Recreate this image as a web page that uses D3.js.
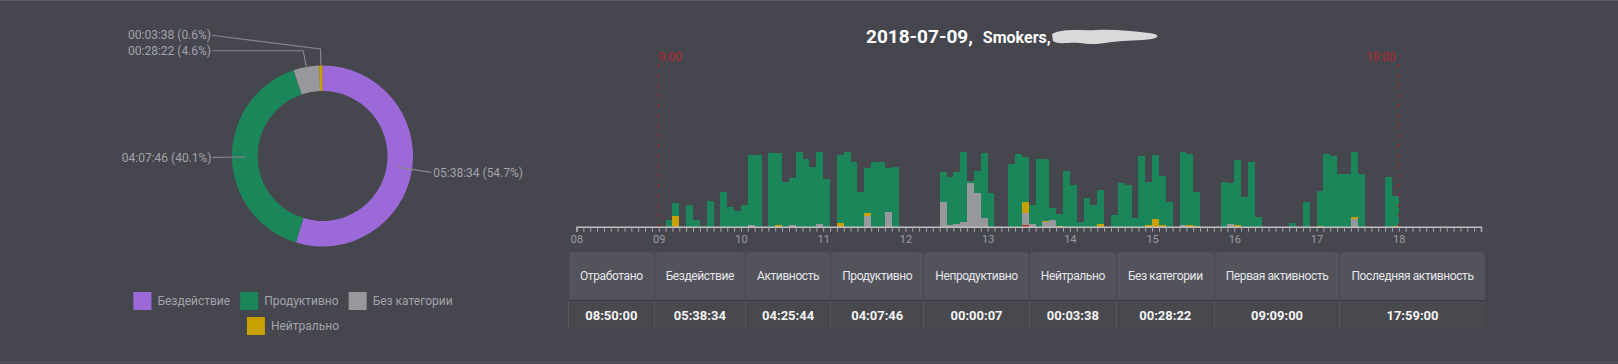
<!DOCTYPE html>
<html>
<head>
<meta charset="utf-8">
<script src="https://cdn.jsdelivr.net/npm/d3@7"></script>
<style>
    html, body {
        margin: 0;
        padding: 0;
        background: #45464e;
        width: 1618px;
        height: 364px;
        overflow: hidden;
        font-family: Roboto, "Noto Sans", sans-serif;
    }
    svg.main {
        position: absolute;
        left: 0;
        top: 0;
    }
    table.stats {
        position: absolute;
        left: 568px;
        top: 252px;
        border-collapse: separate;
        border-spacing: 0;
        font-family: Roboto, sans-serif;
    }
    table.stats th {
        background: #52535b;
        color: #e6e6ea;
        font-weight: 400;
        font-size: 12px;
        letter-spacing: -0.4px;
        height: 48px;
        padding: 0 11px;
        border-radius: 4px 4px 0 0;
        border-left: 1px solid #45464e;
        border-bottom: 1px solid #3c3d44;
        white-space: nowrap;
    }
    table.stats td {
        color: #f4f4f4;
        font-weight: 700;
        font-size: 13px;
        height: 28px;
        padding: 0;
        text-align: center;
        background: #48494f;
        border-left: 1px solid #55565e;
    }
</style>
</head>
<body>
<script>
// ---- data ----
const pieLabels = ["Бездействие", "Продуктивно", "Без категории", "Нейтрально"];
const pieSeconds = [20314, 14866, 1702, 218];
const pieColors = ["#9c6ad8", "#1b8659", "#98989c", "#c8a000"];
const unproductiveSeconds = 7; // counted in the total, too small to show

// seconds per 5-minute bin, starting at 09:00 (12 bins per hour)
const productive = [
    0, 27, 55, 0, 88, 28, 4, 104, 0, 137, 77, 62,
    85, 281, 288, 0, 296, 290, 178, 186, 300, 269, 240, 288,
    192, 0, 270, 298, 257, 140, 182, 259, 259, 176, 240, 0,
    0, 0, 0, 0, 0, 121, 195, 210, 278, 8, 88, 258,
    135, 0, 0, 249, 292, 179, 78, 269, 245, 46, 48, 223,
    165, 20, 116, 88, 139, 0, 48, 174, 168, 34, 284, 174,
    259, 197, 100, 0, 293, 286, 134, 0, 0, 0, 178, 164,
    260, 120, 259, 37, 0, 0, 0, 0, 15, 0, 100, 0,
    141, 292, 284, 212, 212, 259, 210, 0, 0, 0, 197, 121
];
const uncategorized = [
    0, 0, 0, 0, 0, 0, 0, 0, 0, 0, 0, 0,
    0, 7, 0, 0, 0, 0, 0, 7, 0, 0, 0, 12,
    0, 0, 0, 0, 0, 0, 43, 0, 0, 59, 0, 0,
    0, 0, 0, 0, 0, 99, 5, 10, 19, 176, 133, 35,
    0, 0, 0, 0, 0, 47, 10, 0, 20, 27, 0, 0,
    0, 0, 0, 0, 0, 0, 0, 0, 0, 0, 0, 0,
    0, 0, 0, 0, 5, 0, 0, 0, 0, 0, 0, 9,
    0, 0, 0, 0, 0, 0, 0, 0, 0, 0, 0, 0,
    0, 0, 0, 0, 0, 31, 0, 0, 0, 0, 0, 0
];
const neutral = [
    0, 0, 41, 0, 0, 0, 0, 0, 0, 0, 0, 0,
    0, 0, 0, 0, 0, 5, 0, 0, 0, 0, 0, 0,
    0, 0, 15, 0, 0, 0, 11, 0, 0, 0, 0, 0,
    0, 0, 0, 0, 0, 0, 0, 0, 0, 0, 0, 0,
    0, 0, 0, 0, 0, 45, 0, 0, 4, 0, 3, 0,
    0, 0, 0, 0, 9, 0, 0, 0, 0, 0, 0, 5,
    29, 6, 0, 0, 0, 6, 4, 0, 0, 0, 0, 0,
    7, 0, 0, 0, 0, 0, 0, 0, 0, 0, 0, 0,
    3, 0, 0, 0, 0, 7, 0, 0, 0, 0, 0, 3
];
const unproductive = [
    0, 0, 0, 0, 0, 0, 0, 0, 0, 0, 0, 0,
    0, 0, 0, 0, 0, 0, 0, 0, 0, 0, 0, 0,
    0, 0, 0, 0, 0, 0, 0, 0, 0, 0, 0, 0,
    0, 0, 0, 0, 0, 0, 0, 0, 0, 0, 0, 0,
    0, 0, 0, 0, 0, 7, 0, 0, 0, 0, 0, 0,
    0, 0, 0, 0, 0, 0, 0, 0, 0, 0, 0, 0,
    0, 0, 0, 0, 0, 0, 0, 0, 0, 0, 0, 0,
    0, 0, 0, 0, 0, 0, 0, 0, 0, 0, 0, 0,
    0, 0, 0, 0, 0, 0, 0, 0, 0, 0, 0, 0
];
const barColors = { unproductive: "#b8312f", uncategorized: "#98989c", neutral: "#c8a000", productive: "#1b8659" };

const titleDate = "2018-07-09,";
const titleGroup = "Smokers,";
const markers = ["9:00", "18:00"];

const statLabels = ["Отработано", "Бездействие", "Активность", "Продуктивно", "Непродуктивно",
    "Нейтрально", "Без категории", "Первая активность", "Последняя активность"];
const statValues = ["08:50:00", "05:38:34", "04:25:44", "04:07:46", "00:00:07",
    "00:03:38", "00:28:22", "09:09:00", "17:59:00"];

// ---- svg ----
const W = 1618, H = 364;
const svg = d3.select("body").append("svg")
    .attr("class", "main")
    .attr("width", W)
    .attr("height", H);

svg.append("line").attr("x1", 0).attr("x2", W).attr("y1", 0.5).attr("y2", 0.5)
    .attr("stroke", "#5a5b63");
svg.append("line").attr("x1", 0).attr("x2", W).attr("y1", H - 1.5).attr("y2", H - 1.5)
    .attr("stroke", "#55565e");

// ---- donut ----
const cx = 322.5, cy = 156, rOuter = 90.5, rInner = 65;
const total = d3.sum(pieSeconds) + unproductiveSeconds;

function hms(s) {
    const h = Math.floor(s / 3600), m = Math.floor(s % 3600 / 60), sec = s % 60;
    return [h, m, sec].map(v => String(v).padStart(2, "0")).join(":");
}

const pie = d3.pie().sort(null).value(d => d)(pieSeconds);
const arc = d3.arc().innerRadius(rInner).outerRadius(rOuter);
const donut = svg.append("g").attr("transform", `translate(${cx},${cy})`);

donut.selectAll("path")
    .data(pie)
    .enter().append("path")
    .attr("d", arc)
    .attr("fill", (d, i) => pieColors[i]);

// label layout
const pt = (a, r) => [r * Math.sin(a), -r * Math.cos(a)];
const labels = pie.map((d, i) => {
    const a = (d.startAngle + d.endAngle) / 2;
    const big = (d.endAngle - d.startAngle) > 0.3;
    const start = pt(a, big ? 77 : 91);
    const elbow = pt(a, big ? 110 : 107);
    const right = Math.sin(a) > 0;
    return {
        i, a, big, start, elbow, right,
        y: elbow[1],
        text: `${hms(pieSeconds[i])} (${(pieSeconds[i] / total * 100).toFixed(1)}%)`
    };
});
// push overlapping left labels upward
const left = labels.filter(l => !l.right).sort((a, b) => b.y - a.y);
for (let k = 1; k < left.length; k++) {
    if (left[k - 1].y - left[k].y < 15.5) left[k].y = left[k - 1].y - 15.5;
}
const leftX = 212 - cx;

labels.forEach(l => {
    let pts;
    if (l.big) {
        pts = [l.start, l.elbow];
        l.x = l.right ? l.elbow[0] + 2 : l.elbow[0] - 1;
    } else {
        pts = [l.start, l.elbow, [leftX, l.y]];
        l.x = leftX - 1;
    }
    donut.append("polyline")
        .attr("points", pts.map(p => p.join(",")).join(" "))
        .attr("fill", "none")
        .attr("stroke", "#86868c")
        .attr("stroke-width", 1.2);
    donut.append("text")
        .attr("x", l.x)
        .attr("y", l.big ? l.elbow[1] : l.y)
        .attr("dy", "0.35em")
        .attr("text-anchor", l.right ? "start" : "end")
        .attr("font-size", "12px")
        .attr("fill", "#a3a3aa")
        .text(l.text);
});

// legend
const legend = svg.append("g");
const legendCX = 293, legendMax = 340, sw = 18;
const items = pieLabels.map((name, i) => {
    const t = legend.append("text").attr("font-size", "12px").attr("fill", "#a3a3aa").text(name);
    return { name, i, t, w: sw + 6 + t.node().getComputedTextLength() };
});
const rows = [[]];
let rowW = 0;
items.forEach(it => {
    const add = (rows[rows.length - 1].length ? 10 : 0) + it.w;
    if (rowW + add > legendMax) { rows.push([]); rowW = 0; }
    rowW += (rows[rows.length - 1].length ? 10 : 0) + it.w;
    rows[rows.length - 1].push(it);
});
rows.forEach((row, r) => {
    const width = d3.sum(row, d => d.w) + 10 * (row.length - 1);
    let x = legendCX - width / 2;
    const y = 301 + r * 25;
    row.forEach(it => {
        legend.append("rect")
            .attr("x", x).attr("y", y - sw / 2)
            .attr("width", sw).attr("height", sw)
            .attr("fill", pieColors[it.i]);
        it.t.attr("x", x + sw + 6).attr("y", y).attr("dy", "0.35em");
        x += it.w + 10;
    });
});

// ---- timeline ----
const day = (h, m) => new Date(2018, 6, 9, h, m);
const x = d3.scaleTime()
    .domain([day(8, 0), day(19, 0)])
    .range([576.5, 1481]);
const axisY = 226.7;
const y = d3.scaleLinear().domain([0, 300]).range([axisY, axisY - 75]);

const bins = productive.map((v, i) => ({
    t: d3.timeMinute.offset(day(9, 0), i * 5),
    unproductive: unproductive[i],
    uncategorized: uncategorized[i],
    neutral: neutral[i],
    productive: v
}));
const keys = ["unproductive", "uncategorized", "neutral", "productive"];
const stacked = d3.stack().keys(keys)(bins);

const barsG = svg.append("g");
stacked.forEach(layer => {
    barsG.selectAll(null)
        .data(layer.filter(d => d[1] > d[0]))
        .enter().append("rect")
        .attr("x", d => x(d.data.t))
        .attr("width", d => x(d3.timeMinute.offset(d.data.t, 5)) - x(d.data.t))
        .attr("y", d => y(d[1]))
        .attr("height", d => y(d[0]) - y(d[1]))
        .attr("fill", barColors[layer.key])
        .attr("shape-rendering", "crispEdges");
});

// work-day markers
const markerTimes = [day(9, 0), day(18, 0)];
markerTimes.forEach((t, i) => {
    svg.append("line")
        .attr("x1", x(t)).attr("x2", x(t))
        .attr("y1", 64).attr("y2", axisY)
        .attr("stroke", "#8e2a2c")
        .attr("stroke-width", 1.5)
        .attr("stroke-dasharray", "3,7");
    svg.append("text")
        .attr("x", i === 0 ? x(t) : x(t) - 3)
        .attr("y", 61)
        .attr("text-anchor", i === 0 ? "start" : "end")
        .attr("font-size", "12px")
        .attr("fill", "#b02a2c")
        .text(markers[i]);
});

// axis
const endTime = x.domain()[1];
const axis = svg.append("g")
    .attr("transform", `translate(0,${axisY})`)
    .call(d3.axisBottom(x)
        .ticks(d3.timeMinute.every(5))
        .tickSize(5)
        .tickSizeOuter(5)
        .tickPadding(4)
        .tickFormat(d => d.getMinutes() === 0 && +d !== +endTime ? d3.timeFormat("%H")(d) : ""));
axis.select(".domain").attr("stroke", "#c2c2c6").attr("stroke-width", 1.5);
axis.selectAll(".tick line").attr("stroke", "#a8a8ae");
axis.selectAll(".tick text")
    .attr("fill", "#9d9da3")
    .attr("font-size", "11px")
    .attr("font-family", "Roboto, sans-serif");

// title
const title = svg.append("text")
    .attr("x", 866)
    .attr("y", 42.5)
    .attr("fill", "#ffffff")
    .attr("font-weight", "bold");
title.append("tspan").attr("font-size", "19px").text(titleDate);
title.append("tspan").attr("font-size", "16px").attr("dx", 10).text(titleGroup);

// redacted name smear
svg.append("path")
    .attr("d", "M1052,34 C1064,28 1080,31 1096,30 C1112,29 1132,31 1149,33 C1158,34 1161,37 1152,39 " +
        "C1140,41 1126,40 1112,42 C1100,44 1090,45 1080,43 C1068,42 1058,45 1053,41 Z")
    .attr("fill", "#d9d9dc");

// ---- stats table ----
const table = d3.select("body").append("table").attr("class", "stats");
table.append("thead").append("tr")
    .selectAll("th").data(statLabels)
    .enter().append("th").text(d => d);
table.append("tbody").append("tr")
    .selectAll("td").data(statValues)
    .enter().append("td").text(d => d);
</script>
</body>
</html>
